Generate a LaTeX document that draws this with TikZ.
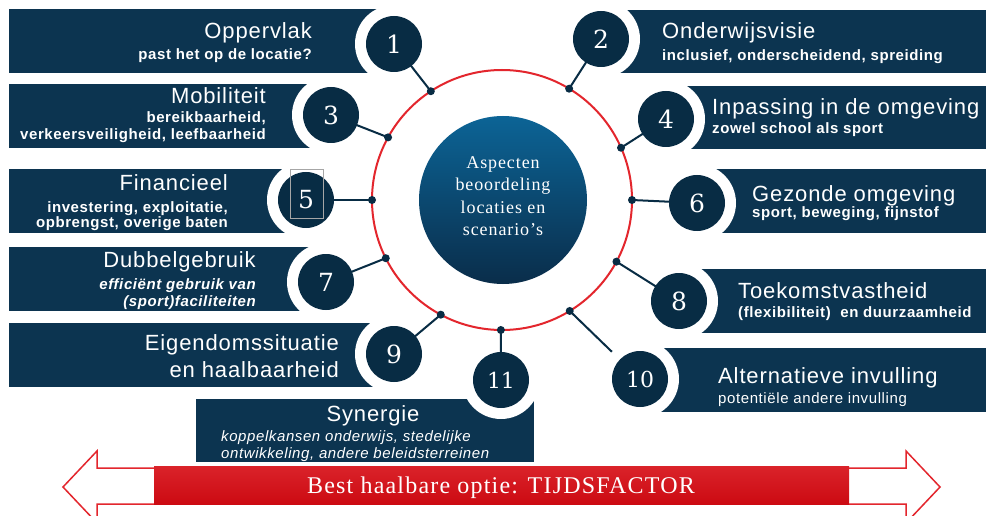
\documentclass[tikz,border=0pt]{standalone}
\usepackage{fontspec}
\newfontfamily\sansf[LetterSpace=4]{Liberation Sans}
\newfontfamily\seriff[LetterSpace=5]{Liberation Serif}
\newfontfamily\digitf{DejaVu Serif}
\usetikzlibrary{calc}
\definecolor{navy}{RGB}{12,52,80}
\definecolor{navyc}{RGB}{8,44,68}
\definecolor{ringred}{RGB}{227,38,45}
\definecolor{bartop}{RGB}{218,35,42}
\definecolor{barbot}{RGB}{204,10,18}
\definecolor{ctop}{RGB}{12,100,150}
\definecolor{cbot}{RGB}{10,45,74}
\tikzset{
  boxfill/.style={fill=navy},
  ttl/.style={text=white, inner sep=0pt, font=\sansf\fontsize{22}{26}\selectfont},
  subb/.style={text=white, inner sep=0pt, font=\sansf\bfseries\fontsize{15}{17}\selectfont},
  subbi/.style={text=white, inner sep=0pt, font=\sansf\bfseries\itshape\fontsize{15}{17}\selectfont},
  subi/.style={text=white, inner sep=0pt, font=\sansf\itshape\fontsize{15}{17}\selectfont},
  subr/.style={text=white, inner sep=0pt, font=\sansf\fontsize{15}{17}\selectfont},
  numc/.style={circle, fill=navyc, minimum size=56pt, inner sep=0pt, text=white, font=\digitf\fontsize{25}{25}\selectfont},
  halo/.style={circle, fill=white, minimum size=78pt, inner sep=0pt},
  dotc/.style={circle, fill=navyc, minimum size=8pt, inner sep=0pt},
  conn/.style={draw=navyc, line width=2pt},
}
\begin{document}
\begin{tikzpicture}[x=1pt,y=-1pt]
\useasboundingbox (0,0) rectangle (986,516);
\fill[white] (0,0) rectangle (986,516);

% bottom double arrow
\draw[ringred, line width=1.5pt, fill=white, line join=miter]
  (63,487) -- (97,451) -- (97,468) -- (906,468) -- (906,451) -- (940,487)
  -- (906,523) -- (906,504) -- (97,504) -- (97,523) -- cycle;
\shade[top color=bartop, bottom color=barbot] (154,466) rectangle (849,504);
\node[text=white, inner sep=0pt, anchor=base, font=\seriff\fontsize{24}{26}\selectfont] (tijd) at (501,493) {Best haalbare optie: TIJDSFACTOR};

% boxes
\fill[boxfill] (9,9) rectangle (394,73);
\fill[boxfill] (9,84) rectangle (331,148);
\fill[boxfill] (9,169) rectangle (306,233);
\fill[boxfill] (9,247) rectangle (326,311);
\fill[boxfill] (9,323) rectangle (394,387);
\fill[boxfill] (196,399) rectangle (534,462);
\fill[boxfill] (601,10) rectangle (986,73);
\fill[boxfill] (666,86) rectangle (986,149);
\fill[boxfill] (697,169) rectangle (986,233);
\fill[boxfill] (679,269) rectangle (986,333);
\fill[boxfill] (640,348) rectangle (986,412);

% ring and center
\coordinate (O) at (502,200);
\draw[ringred, line width=2pt] (O) circle[radius=130pt];
\node[circle, minimum size=168pt, inner sep=0pt, top color=ctop, bottom color=cbot] (mid) at (503,200) {};
\node[text=white, inner sep=0pt, align=center, font=\seriff\fontsize{18}{22.5}\selectfont] (midtext) at (503,196) {Aspecten\\beoordeling\\locaties en\\scenario’s};

% dots
\foreach \i/\a in {1/-123.2, 2/-58.9, 3/-151.2, 4/-23.7, 5/180, 6/0, 7/153.4, 8/28.3, 9/118.1, 10/58.6, 11/90.5}
  \coordinate (d\i) at ($(O)+(\a:130)$);

% number circle positions
\coordinate (p1) at (394,44);
\coordinate (p2) at (601,39);
\coordinate (p3) at (331,115);
\coordinate (p4) at (666,119);
\coordinate (p5) at (306,200);
\coordinate (p6) at (697,203);
\coordinate (p7) at (326,282);
\coordinate (p8) at (679,301);
\coordinate (p9) at (394,354);
\coordinate (p10) at (640,379);
\coordinate (p11) at (501,380);

% connector 10 goes under the halo
\draw[conn] (d10) -- (p10);

% halos
\foreach \i in {1,...,11} \node[halo] (h\i) at (p\i) {};

% connectors
\foreach \i in {1,2,3,4,5,6,7,8,9,11} \draw[conn] (d\i) -- (p\i);

% dots
\foreach \i in {1,...,11} \node[dotc] (dd\i) at (d\i) {};

% numbered circles
\node[numc] (c1) at (p1) {1};
\node[numc] (c2) at (p2) {2};
\node[numc] (c3) at (p3) {3};
\node[numc] (c4) at (p4) {4};
\node[numc] (c5) at (p5) {5};
\node[numc] (c6) at (p6) {6};
\node[numc] (c7) at (p7) {7};
\node[numc] (c8) at (p8) {8};
\node[numc] (c9) at (p9) {9};
\node[numc, font=\digitf\fontsize{22}{22}\selectfont] (c10) at (p10) {10};
\node[numc, font=\digitf\fontsize{22}{22}\selectfont] (c11) at (p11) {11};
\draw[gray!70, line width=0.6pt] (290,169) rectangle (323,218);

% texts left
\node[ttl, anchor=base east] (t1) at (312,39) {Oppervlak};
\node[subb, anchor=base east] (s1) at (312,60) {past het op de locatie?};
\node[ttl, anchor=base east] (t3) at (266,104) {Mobiliteit};
\node[subb, anchor=base east] (s3a) at (266,123) {bereikbaarheid,};
\node[subb, anchor=base east] (s3b) at (266,140) {verkeersveiligheid, leefbaarheid};
\node[ttl, anchor=base east] (t5) at (228,191) {Financieel};
\node[subb, anchor=base east] (s5a) at (228,212) {investering, exploitatie,};
\node[subb, anchor=base east] (s5b) at (228,228) {opbrengst, overige baten};
\node[ttl, anchor=base east] (t7) at (256,267) {Dubbelgebruik};
\node[subbi, anchor=base east] (s7a) at (256,289) {efficiënt gebruik van};
\node[subbi, anchor=base east] (s7b) at (256,306) {(sport)faciliteiten};
\node[ttl, anchor=base east] (t9a) at (339,350) {Eigendomssituatie};
\node[ttl, anchor=base east] (t9b) at (339,377) {en haalbaarheid};
\node[ttl, anchor=base] (t11) at (373,421) {Synergie};
\node[subi, anchor=base west] (s11a) at (221,441) {koppelkansen onderwijs, stedelijke};
\node[subi, anchor=base west] (s11b) at (221,458) {ontwikkeling, andere beleidsterreinen};

% texts right
\node[ttl, anchor=base west] (t2) at (662,39) {Onderwijsvisie};
\node[subb, anchor=base west] (s2) at (662,61) {inclusief, onderscheidend, spreiding};
\node[ttl, anchor=base west] (t4) at (712,115) {Inpassing in de omgeving};
\node[subb, anchor=base west] (s4) at (712,134) {zowel school als sport};
\node[ttl, anchor=base west] (t6) at (752,202) {Gezonde omgeving};
\node[subb, anchor=base west] (s6) at (752,218) {sport, beweging, fijnstof};
\node[ttl, anchor=base west] (t8) at (738,298) {Toekomstvastheid};
\node[subb, anchor=base west] (s8) at (738,317) {(flexibiliteit)\ \ en duurzaamheid};
\node[ttl, anchor=base west] (t10) at (718,383) {Alternatieve invulling};
\node[subr, anchor=base west] (s10) at (718,403) {potentiële andere invulling};
\end{tikzpicture}
\end{document}
